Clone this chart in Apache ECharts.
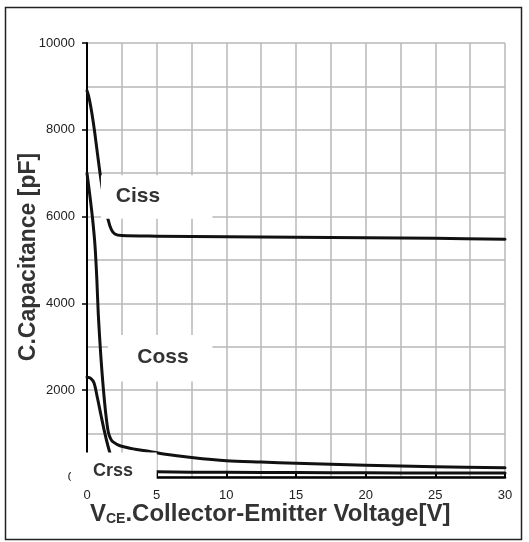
<!DOCTYPE html>
<html>
<head>
<meta charset="utf-8">
<script src="https://cdn.jsdelivr.net/npm/echarts@6/dist/echarts.min.js"></script>
<style>
  html, body { margin: 0; padding: 0; background: #fff; }
  #chart { width: 529px; height: 542px; }
</style>
</head>
<body>
<div id="chart"></div>
<script>
// Capacitance vs. collector-emitter voltage (V_CE in volts, C in pF)
const cissV = [0, 0.1, 0.2, 0.35, 0.55, 0.75, 1.0, 1.25, 1.5, 1.75, 2.0, 2.5, 5, 10, 15, 20, 25, 30];
const cissC = [8900, 8800, 8650, 8380, 7950, 7450, 6850, 6350, 5950, 5700, 5600, 5565, 5550, 5535, 5525, 5515, 5500, 5480];

const cossV = [0, 0.22, 0.4, 0.57, 0.7, 0.81, 1.0, 1.17, 1.35, 1.53, 1.7, 1.87, 2.37, 3.45, 4.5, 5.5, 7.5, 10, 12.5, 15, 20, 25, 30];
const cossC = [7000, 6450, 5950, 5350, 4600, 3750, 2750, 2050, 1450, 1030, 880, 810, 720, 640, 590, 530, 450, 375, 345, 318, 272, 238, 212];

const crssV = [0, 0.25, 0.5, 0.75, 1.0, 1.25, 1.5, 1.75, 2.0, 2.5, 3, 4, 5, 7.5, 10, 15, 20, 25, 30];
const crssC = [2300, 2280, 2170, 1820, 1430, 1050, 720, 450, 300, 200, 160, 135, 120, 112, 108, 102, 97, 93, 90];

const seriesNames = ['Ciss', 'Coss', 'Crss'];

// axis ranges and tick steps
const xRange = [0, 30], xStep = 5;
const yRange = [0, 10000], yStep = 2000;

const FONT = '"Liberation Sans", Arial, sans-serif';
const zip = (xs, ys) => xs.map((x, i) => [x, ys[i]]);
const gridLine = { color: '#b8b8b8', width: 1.5 };

const chart = echarts.init(document.getElementById('chart'), null, { renderer: 'canvas' });

const curveStyle = { color: '#111', width: 3, cap: 'round', join: 'round' };
const makeSeries = (name, data) => ({
  name, type: 'line', data,
  showSymbol: false, symbol: 'none',
  smooth: 0.3,
  lineStyle: curveStyle, z: 3
});

chart.setOption({
  animation: false,
  backgroundColor: '#fff',
  grid: { left: 87, right: 24, top: 43, bottom: 65 },
  xAxis: {
    type: 'value', min: xRange[0], max: xRange[1], interval: xStep,
    axisLine: { show: true, lineStyle: { color: '#000', width: 2.5 } },
    axisTick: { show: true, inside: true, length: 5, lineStyle: { color: '#000', width: 2 } },
    axisLabel: { margin: 12, fontSize: 13, color: '#222', fontFamily: FONT, formatter: v => String(v) },
    splitLine: { show: true, lineStyle: gridLine },
    minorTick: { show: false, splitNumber: 2 },
    minorSplitLine: { show: true, lineStyle: gridLine }
  },
  yAxis: {
    type: 'value', min: yRange[0], max: yRange[1], interval: yStep,
    axisLine: { show: true, lineStyle: { color: '#000', width: 2 } },
    axisTick: { show: true, inside: false, length: 5, lineStyle: { color: '#000', width: 1.5 } },
    axisLabel: { margin: 12, fontSize: 13, color: '#222', fontFamily: FONT, formatter: v => String(v) },
    splitLine: { show: true, lineStyle: gridLine },
    minorTick: { show: false, splitNumber: 2 },
    minorSplitLine: { show: true, lineStyle: gridLine }
  },
  series: [
    makeSeries(seriesNames[0], zip(cissV, cissC)),
    makeSeries(seriesNames[1], zip(cossV, cossC)),
    makeSeries(seriesNames[2], zip(crssV, crssC))
  ]
});

// curve labels sit on white plates laid out in data units
const labelLayout = [
  { box: [[1.0, 6950], [9.0, 5950]], at: [3.66, 6475], size: 21 },
  { box: [[1.5, 3270], [9.0, 2200]], at: [5.45, 2762], size: 21 },
  { box: [[-1.15, 565], [5.0, -240]], at: [1.87, 130], size: 18 }
];

const toPx = p => chart.convertToPixel({ gridIndex: 0 }, p);
const graphics = [];
labelLayout.forEach((l, i) => {
  const a = toPx(l.box[0]), b = toPx(l.box[1]), c = toPx(l.at);
  graphics.push({
    type: 'rect', z: 100,
    shape: { x: a[0], y: a[1], width: b[0] - a[0], height: b[1] - a[1] },
    style: { fill: '#fff' }
  });
  graphics.push({
    type: 'text', z: 101, x: c[0], y: c[1],
    style: {
      text: seriesNames[i], fill: '#333',
      font: 'bold ' + l.size + 'px ' + FONT,
      align: 'center', verticalAlign: 'middle'
    }
  });
});

// axis titles
graphics.push({
  type: 'text', z: 101, x: 29, y: 257, rotation: Math.PI / 2,
  style: {
    text: 'C.Capacitance [pF]', fill: '#333',
    font: 'bold 23px ' + FONT, align: 'center', verticalAlign: 'middle'
  }
});
graphics.push({
  type: 'text', z: 101, x: 90, y: 526,
  style: {
    text: '{v|V}{s|CE}{n|.Collector-Emitter Voltage[V]}',
    align: 'left', verticalAlign: 'bottom',
    rich: {
      v: { fontSize: 24, fontWeight: 'bold', fontFamily: FONT, fill: '#333' },
      s: { fontSize: 14, fontWeight: 'bold', fontFamily: FONT, fill: '#333', verticalAlign: 'bottom' },
      n: { fontSize: 24, fontWeight: 'bold', fontFamily: FONT, fill: '#333' }
    }
  }
});

// outer frame
graphics.push({
  type: 'rect', z: 100,
  shape: { x: 5.5, y: 7.5, width: 516, height: 532 },
  style: { fill: 'none', stroke: '#222', lineWidth: 1.5 }
});

chart.setOption({ graphic: graphics });
</script>
</body>
</html>
